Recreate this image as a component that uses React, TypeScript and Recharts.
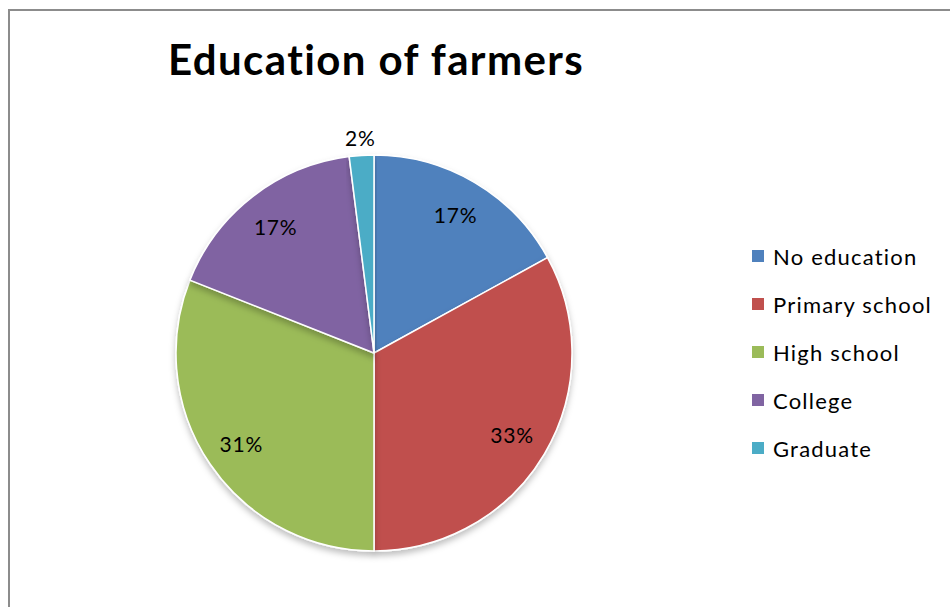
import { PieChart, Pie, Cell, Legend } from 'recharts'

const categories = ['No education', 'Primary school', 'High school', 'College', 'Graduate']
const shares = [17, 33, 31, 17, 2]
const colors = ['#4F81BD', '#C0504D', '#9BBB59', '#8064A2', '#4BACC6']

const data = categories.map((name, i) => ({ name, value: shares[i] }))

const RAD = Math.PI / 180
const FONT = 'Lato, "Open Sans", sans-serif'

function renderLabel(props: any) {
  const { cx, cy, midAngle, outerRadius, percent, value } = props
  // small slices get their label pushed outside, like Excel's best fit
  const r = percent < 0.05 ? outerRadius + 18 : outerRadius * 0.81
  const x = cx + r * Math.cos(-midAngle * RAD)
  const y = cy + r * Math.sin(-midAngle * RAD)
  return (
    <text
      x={x}
      y={y}
      fill="#000"
      fontSize={21}
      fontFamily={FONT}
      letterSpacing={0.8}
      textAnchor="middle"
      dominantBaseline="central"
    >
      {`${value}%`}
    </text>
  )
}

function LegendBox() {
  return (
    <div style={{ fontFamily: FONT }}>
      {data.map((d, i) => (
        <div key={d.name} style={{ display: 'flex', alignItems: 'center', height: 48 }}>
          <span style={{ width: 12, height: 12, background: colors[i], marginRight: 9, display: 'inline-block' }} />
          <span style={{ fontSize: 22, color: '#000', letterSpacing: 1.2, whiteSpace: 'nowrap' }}>{d.name}</span>
        </div>
      ))}
    </div>
  )
}

export default function App() {
  return (
    <div style={{ position: 'absolute', left: 0, top: 0, width: 950, height: 607, background: '#fff', overflow: 'hidden' }}>
      <div
        style={{
          position: 'absolute',
          left: 8,
          top: 9,
          width: 1000,
          height: 700,
          borderLeft: '2px solid #8c8c8c',
          borderTop: '2px solid #8c8c8c',
        }}
      />
      <div
        style={{
          position: 'absolute',
          left: 168,
          top: 34,
          fontFamily: FONT,
          fontWeight: 700,
          fontSize: 42,
          letterSpacing: 1.4,
          color: '#000',
          whiteSpace: 'nowrap',
        }}
      >
        Education of farmers
      </div>
      <div style={{ position: 'absolute', left: 0, top: 0 }}>
        <PieChart width={950} height={607} margin={{ top: 0, right: 0, bottom: 0, left: 0 }}>
          <defs>
            <filter id="pieShadow" x="-10%" y="-10%" width="120%" height="125%">
              <feDropShadow dx="0" dy="4" stdDeviation="3" floodColor="#000" floodOpacity="0.25" />
            </filter>
          </defs>
          <Pie
            data={data}
            dataKey="value"
            nameKey="name"
            cx={374}
            cy={353}
            outerRadius={198}
            startAngle={90}
            endAngle={-270}
            stroke="#fff"
            strokeWidth={1.5}
            label={renderLabel}
            labelLine={false}
            isAnimationActive={false}
            style={{ filter: 'url(#pieShadow)' }}
          >
            {data.map((d, i) => (
              <Cell key={d.name} fill={colors[i]} />
            ))}
          </Pie>
          <Legend
            layout="vertical"
            content={<LegendBox />}
            wrapperStyle={{ position: 'absolute', left: 752, top: 232, width: 200 }}
          />
        </PieChart>
      </div>
    </div>
  )
}
